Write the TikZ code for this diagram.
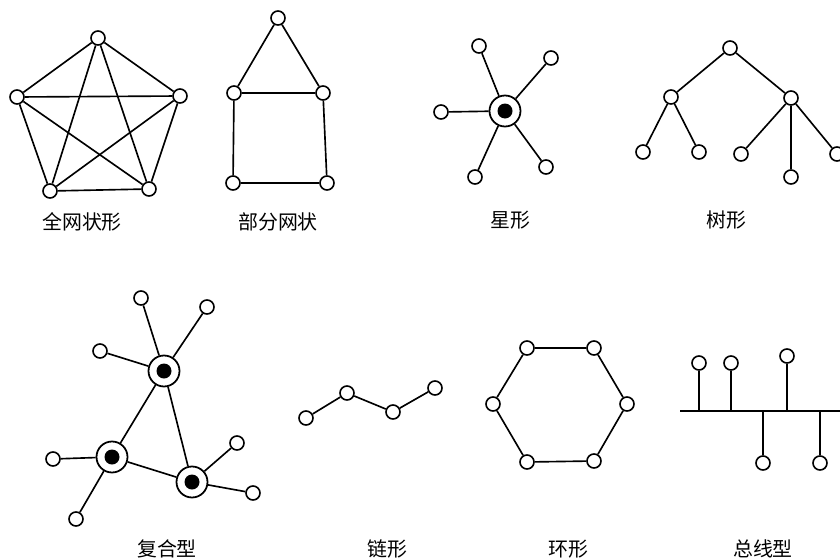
\documentclass[tikz,border=0pt]{standalone}
\usepackage{fontspec}
\newfontfamily\cjk{Noto Sans CJK SC}
\begin{document}
\begin{tikzpicture}[x=0.03cm,y=-0.03cm,
  st/.style={circle,draw,fill=white,line width=1.4pt,minimum size=0.42cm,inner sep=0pt},
  hub/.style={circle,draw,fill=white,line width=1.5pt,minimum size=0.93cm,inner sep=0pt},
  dot/.style={circle,fill=black,minimum size=0.45cm,inner sep=0pt},
  lnk/.style={line width=1.4pt},
  lbl/.style={font=\cjk\fontsize{17}{19}\selectfont}]
\useasboundingbox (0,0) rectangle (840,560);
% full mesh
\node[st] (m1) at (98,38) {};
\node[st] (m2) at (17,97) {};
\node[st] (m3) at (180,96) {};
\node[st] (m4) at (50,191) {};
\node[st] (m5) at (149,189) {};
\foreach \a/\b in {m1/m2,m1/m3,m1/m4,m1/m5,m2/m3,m2/m4,m2/m5,m3/m4,m3/m5,m4/m5}
  \draw[lnk] (\a) -- (\b);
\node[lbl] (lm) at (82,222) {全网状形};
% partial mesh
\node[st] (p1) at (278,18) {};
\node[st] (p2) at (234,93) {};
\node[st] (p3) at (323,93) {};
\node[st] (p4) at (233,183) {};
\node[st] (p5) at (327,183) {};
\foreach \a/\b in {p1/p2,p1/p3,p2/p3,p2/p4,p3/p5,p4/p5}
  \draw[lnk] (\a) -- (\b);
\node[lbl] (lp) at (278,222) {部分网状};
% star
\node[hub] (s0) at (505,111) {};
\node[dot] (s0d) at (505,111) {};
\node[st] (s1) at (479,46) {};
\node[st] (s2) at (551,58) {};
\node[st] (s3) at (441,112) {};
\node[st] (s4) at (475,177) {};
\node[st] (s5) at (546,167) {};
\foreach \b in {s1,s2,s3,s4,s5} \draw[lnk] (s0) -- (\b);
\node[lbl] (ls) at (510,220) {星形};
% tree
\node[st] (t0) at (730,48) {};
\node[st] (t1) at (671,97) {};
\node[st] (t2) at (791,98) {};
\node[st] (t3) at (643,152) {};
\node[st] (t4) at (699,152) {};
\node[st] (t5) at (741,154) {};
\node[st] (t6) at (791,177) {};
\node[st] (t7) at (837,154) {};
\foreach \a/\b in {t0/t1,t0/t2,t1/t3,t1/t4,t2/t5,t2/t6,t2/t7}
  \draw[lnk] (\a) -- (\b);
\node[lbl] (lt) at (726,220) {树形};
% composite
\node[hub] (ca) at (164,371) {};
\node[dot] (cad) at (164,371) {};
\node[hub] (cb) at (112,457) {};
\node[dot] (cbd) at (112,457) {};
\node[hub] (cc) at (192,482) {};
\node[dot] (ccd) at (192,482) {};
\node[st] (ca1) at (141,298) {};
\node[st] (ca2) at (207,307) {};
\node[st] (ca3) at (100,351) {};
\node[st] (cb1) at (53,459) {};
\node[st] (cb2) at (76,519) {};
\node[st] (cc1) at (237,443) {};
\node[st] (cc2) at (253,493) {};
\foreach \a/\b in {ca/cb,ca/cc,cb/cc,ca/ca1,ca/ca2,ca/ca3,cb/cb1,cb/cb2,cc/cc1,cc/cc2}
  \draw[lnk] (\a) -- (\b);
\node[lbl] (lc) at (167,549) {复合型};
% chain
\node[st] (k1) at (306,418) {};
\node[st] (k2) at (347,393) {};
\node[st] (k3) at (393,412) {};
\node[st] (k4) at (435,388) {};
\draw[lnk] (k1) -- (k2) -- (k3) -- (k4);
\node[lbl] (lk) at (387,549) {链形};
% ring
\node[st] (r1) at (527,348) {};
\node[st] (r2) at (594,348) {};
\node[st] (r3) at (627,404) {};
\node[st] (r4) at (594,461) {};
\node[st] (r5) at (527,462) {};
\node[st] (r6) at (493,404) {};
\draw[lnk] (r1) -- (r2) -- (r3) -- (r4) -- (r5) -- (r6) -- (r1);
\node[lbl] (lr) at (568,549) {环形};
% bus
\coordinate (bL) at (680,411);
\coordinate (bR) at (845,411);
\draw[lnk] (bL) -- (bR);
\node[st] (b1) at (699,363) {};
\node[st] (b2) at (731,363) {};
\node[st] (b3) at (787,356) {};
\node[st] (b4) at (763,463) {};
\node[st] (b5) at (820,463) {};
\foreach \b in {b1,b2,b3,b4,b5} {
  \coordinate (\b t) at (\b |- bL);
  \draw[lnk] (\b) -- (\b t);
}
\node[lbl] (lb) at (763,549) {总线型};
\end{tikzpicture}
\end{document}
